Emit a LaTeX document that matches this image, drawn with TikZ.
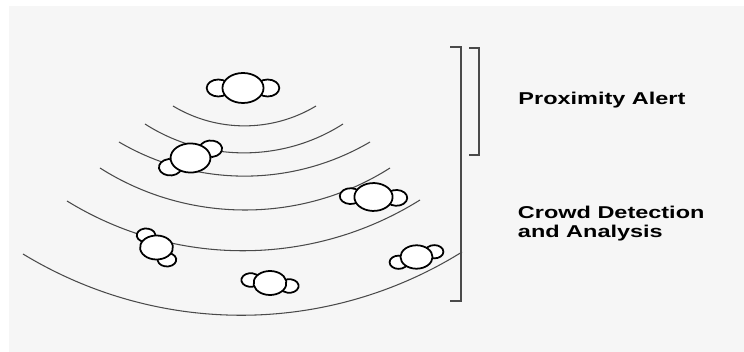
\documentclass[tikz,border=0pt]{standalone}
\usepackage{fontspec}
\setmainfont{Liberation Sans}
\usepackage{tikz}
\definecolor{panelgray}{HTML}{F6F6F6}
\definecolor{arcgray}{HTML}{4A4A4A}
\tikzset{
	rangearc/.style={draw=arcgray, line width=0.6pt},
	rangebracket/.style={draw=arcgray, line width=0.7pt},
	rangelabel/.style={black, anchor=base west, inner sep=0pt, align=left, font=\fontsize{9.75}{11.3}\selectfont\bfseries, xscale=1.37, transform shape},
	person/.pic={
		\draw[black, line width=1.0pt, fill=white] (-0.36,0.00) circle (0.17);
		\draw[black, line width=1.0pt, fill=white] (0.36,0.00) circle (0.17);
		\draw[black, line width=1.0pt, fill=white] (0.00,0.00) circle (0.30);
	}
}
\begin{document}
\begin{tikzpicture}
	\useasboundingbox (0.00,0.00) rectangle (14.88,7.04);
	\fill[panelgray] (0.18,0.00) rectangle (14.88,6.92);

	\draw[rangearc] (3.46,4.92) .. controls (4.34,4.39) and (5.44,4.39) .. (6.32,4.92);
	\draw[rangearc] (2.90,4.56) .. controls (4.10,3.79) and (5.66,3.79) .. (6.86,4.56);
	\draw[rangearc] (2.38,4.20) .. controls (3.93,3.29) and (5.85,3.29) .. (7.40,4.20);
	\draw[rangearc] (2.00,3.68) .. controls (3.76,2.56) and (6.04,2.56) .. (7.80,3.68);
	\draw[rangearc] (1.34,3.02) .. controls (3.50,1.69) and (6.24,1.69) .. (8.40,3.04);
	\draw[rangearc] (0.46,1.96) .. controls (3.16,0.32) and (6.54,0.32) .. (9.24,2.00);

	\draw[rangebracket] (9.00,6.10) -- (9.22,6.10) -- (9.22,1.02) -- (9.00,1.02);
	\draw[rangebracket] (9.38,6.08) -- (9.58,6.08) -- (9.58,3.94) -- (9.38,3.94);

	\pic[xscale=1.37] at (4.86,5.28) {person};
	\pic[xscale=1.37, scale=0.97, rotate=32] at (3.81,3.88) {person};
	\pic[xscale=1.37, scale=0.93, rotate=-3] at (7.47,3.10) {person};
	\pic[xscale=1.37, scale=0.80, rotate=-58] at (3.13,2.09) {person};
	\pic[xscale=1.37, scale=0.80, rotate=-12] at (5.40,1.38) {person};
	\pic[xscale=1.37, scale=0.78, rotate=22] at (8.33,1.90) {person};

	\node[rangelabel] (proximity) at (10.36,4.94) {Proximity Alert};
	\node[rangelabel] (crowd) at (10.35,2.28) {Crowd Detection\\and Analysis};
\end{tikzpicture}
\end{document}
